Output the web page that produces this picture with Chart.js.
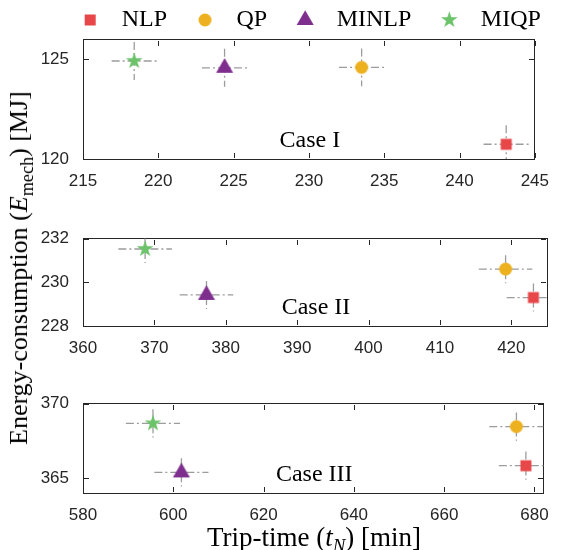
<!DOCTYPE html>
<html>
<head>
<meta charset="utf-8">
<script src="https://cdn.jsdelivr.net/npm/chart.js@4/dist/chart.umd.min.js"></script>
<style>
  body { margin: 0; background: #fff; }
  #wrap { position: relative; width: 561px; height: 550px; overflow: hidden; }
  canvas { position: absolute; left: 0; }
  .axlab { position: absolute; white-space: nowrap; font-family: "Liberation Serif", serif; color: #000; line-height: 1; }
  .axlab sub { font-size: 0.7em; line-height: 0; }
  #ylab { left: 19px; top: 268px; font-size: 26px; transform: translate(-50%, -50%) rotate(-90deg); }
  #xlab { left: 314px; top: 537px; font-size: 27px; transform: translate(-50%, -50%); }
</style>
</head>
<body>
<div id="wrap">
  <canvas id="case1" width="561" height="189" style="top:0px"></canvas>
  <canvas id="case2" width="561" height="159" style="top:197px"></canvas>
  <canvas id="case3" width="561" height="161" style="top:362px"></canvas>
  <div class="axlab" id="ylab">Energy-consumption (<i>E</i><sub>mech</sub>) [MJ]</div>
  <div class="axlab" id="xlab">Trip-time (<i>t</i><sub><i>N</i></sub>) [min]</div>
</div>
<script>
const methods = ['NLP', 'QP', 'MINLP', 'MIQP'];
const colors = ['#E8474A', '#EDB120', '#7E2F8E', '#6CC36A'];
const shapes = ['rect', 'circle', 'triangle', 'star'];

// Case I
const case1Time = [243.1, 233.5, 224.4, 218.4];
const case1Energy = [120.74, 124.6, 124.58, 124.92];
const case1TimeErr = [1.5, 1.5, 1.5, 1.5];
const case1EnergyErr = [0.95, 0.95, 0.95, 0.95];
const case1XTicks = [215, 220, 225, 230, 235, 240, 245];
const case1YTicks = [120, 125];

// Case II
const case2Time = [423.1, 419.2, 377.3, 368.7];
const case2Energy = [229.3, 230.6, 229.42, 231.52];
const case2TimeErr = [3.75, 3.75, 3.75, 3.75];
const case2EnergyErr = [0.64, 0.64, 0.64, 0.64];
const case2XTicks = [360, 370, 380, 390, 400, 410, 420];
const case2YTicks = [228, 230, 232];

// Case III
const case3Time = [678.1, 676.0, 601.8, 595.5];
const case3Energy = [365.83, 368.45, 365.38, 368.67];
const case3TimeErr = [6, 6, 6, 6];
const case3EnergyErr = [0.95, 0.95, 0.95, 0.95];
const case3XTicks = [580, 600, 620, 640, 660, 680];
const case3YTicks = [365, 370];

const axisColor = '#262626';
const serif = '"Liberation Serif", serif';

function makeMarker(shape, color, w, cx) {
  const c = document.createElement('canvas');
  c.width = w; c.height = 24;
  const g = c.getContext('2d');
  const cy = 12;
  g.fillStyle = color;
  g.beginPath();
  if (shape === 'rect') {
    g.rect(cx - 5.5, cy - 5.5, 11, 11);
  } else if (shape === 'circle') {
    g.arc(cx, cy, 6.5, 0, 2 * Math.PI);
  } else if (shape === 'triangle') {
    g.moveTo(cx, cy - 9.8);
    g.lineTo(cx + 8.5, cy + 4.9);
    g.lineTo(cx - 8.5, cy + 4.9);
    g.closePath();
  } else {
    for (let k = 0; k < 10; k++) {
      const r = k % 2 ? 3.4 : 8.7;
      const a = -Math.PI / 2 + k * Math.PI / 5;
      g.lineTo(cx + r * Math.cos(a), cy + r * Math.sin(a));
    }
    g.closePath();
  }
  g.fill();
  return c;
}

const dataMarkers = shapes.map((s, i) => makeMarker(s, colors[i], 24, 12));
const legendMarkers = shapes.map((s, i) => makeMarker(s, colors[i], 48, 33.25));

// dash-dot crosshair error bars
const errorBars = {
  id: 'errorBars',
  beforeDatasetsDraw(chart) {
    const {ctx, chartArea: a, scales: {x, y}} = chart;
    ctx.save();
    ctx.beginPath();
    ctx.rect(a.left, a.top, a.width, a.height);
    ctx.clip();
    ctx.strokeStyle = '#9c9c9c';
    ctx.lineWidth = 1.3;
    ctx.setLineDash([8, 3, 2, 3]);
    chart.data.datasets.forEach(ds => {
      ds.data.forEach(p => {
        const px = x.getPixelForValue(p.x), py = y.getPixelForValue(p.y);
        ctx.beginPath();
        ctx.moveTo(x.getPixelForValue(p.x - p.xErr), py);
        ctx.lineTo(x.getPixelForValue(p.x + p.xErr), py);
        ctx.stroke();
        ctx.beginPath();
        ctx.moveTo(px, y.getPixelForValue(p.y + p.yErr));
        ctx.lineTo(px, y.getPixelForValue(p.y - p.yErr));
        ctx.stroke();
      });
    });
    ctx.restore();
  }
};

// inward ticks on all four sides, plus the case label
const ticksAndLabel = {
  id: 'ticksAndLabel',
  afterDraw(chart, args, opts) {
    const {ctx, chartArea: a, scales: {x, y}} = chart;
    const L = Math.round(a.left), R = Math.round(a.right) - 1;
    const T = Math.round(a.top), B = Math.round(a.bottom) - 1;
    ctx.save();
    ctx.fillStyle = axisColor;
    x.ticks.forEach(t => {
      const px = Math.round(x.getPixelForValue(t.value));
      ctx.fillRect(px, B - 5, 1, 5);
      ctx.fillRect(px, T + 1, 1, 5);
    });
    y.ticks.forEach(t => {
      const py = Math.round(y.getPixelForValue(t.value));
      ctx.fillRect(L + 1, py, 5, 1);
      ctx.fillRect(R - 5, py, 5, 1);
    });
    ctx.fillStyle = '#000';
    ctx.font = '24px ' + serif;
    ctx.textAlign = 'center';
    ctx.textBaseline = 'middle';
    ctx.fillText(opts.text, (a.left + a.right) / 2 + 1, a.bottom - 18);
    ctx.restore();
  }
};

// fixed legend height and horizontal shift so the legend sits where it should
const legendFix = {
  id: 'legendFix',
  afterInit(chart) {
    const lg = chart.legend;
    if (!lg) return;
    const fit = lg.fit.bind(lg);
    lg.fit = function () { fit(); this.height = 31.5; };
  },
  afterLayout(chart) {
    const lg = chart.legend;
    if (!lg || !lg.options.display) return;
    lg.left += 6.5;
    lg.right += 6.5;
  }
};

function makePanel(id, time, energy, timeErr, energyErr, xTicks, yTicks, xr, yr, caseText, withLegend) {
  const datasets = methods.map((m, i) => ({
    label: m,
    data: [{x: time[i], y: energy[i], xErr: timeErr[i], yErr: energyErr[i]}],
    pointStyle: dataMarkers[i],
    pointRadius: 8,
    pointBorderWidth: 0,
    backgroundColor: colors[i],
    borderColor: colors[i]
  }));
  const tickFont = {family: '"Liberation Sans", Arial, sans-serif', size: 17};
  const boxSide = (pos, range, size) => ({
    type: 'linear', position: pos, min: range[0], max: range[1],
    grid: {display: false, drawTicks: false},
    border: {display: true, color: axisColor, width: 1},
    ticks: {display: false},
    afterFit: s => { if (pos === 'top') s.height = 0; else s.width = 0; }
  });
  return new Chart(document.getElementById(id), {
    type: 'scatter',
    data: {datasets},
    options: {
      responsive: false,
      animation: false,
      layout: {padding: withLegend ? {left: 33, right: 14, top: 8, bottom: 0} : {left: 0, right: 14, top: 10, bottom: 0}},
      scales: {
        x: {
          type: 'linear', position: 'bottom', min: xr[0], max: xr[1],
          grid: {display: false, drawTicks: false},
          border: {display: true, color: axisColor, width: 1},
          ticks: {padding: 12, font: tickFont, color: axisColor, maxRotation: 0, autoSkip: false, callback: v => String(v)},
          afterBuildTicks: s => { s.ticks = xTicks.map(v => ({value: v})); },
          afterFit: s => { s.height = 30; }
        },
        y: {
          type: 'linear', position: 'left', min: yr[0], max: yr[1],
          grid: {display: false, drawTicks: false},
          border: {display: true, color: axisColor, width: 1},
          ticks: {padding: 14, font: tickFont, color: axisColor, autoSkip: false, callback: v => String(v)},
          afterBuildTicks: s => { s.ticks = yTicks.map(v => ({value: v})); },
          afterFit: s => { s.width = withLegend ? 50 : 83; }
        },
        xTop: boxSide('top', xr),
        yRight: boxSide('right', yr)
      },
      plugins: {
        tooltip: {enabled: false},
        ticksAndLabel: {text: caseText},
        legend: {
          display: withLegend,
          position: 'top',
          labels: {
            usePointStyle: true,
            pointStyleWidth: 57.5,
            padding: 0,
            color: '#000',
            font: {family: serif, size: 24},
            generateLabels(chart) {
              const items = Chart.defaults.plugins.legend.labels.generateLabels(chart);
              items.forEach((it, i) => { it.pointStyle = legendMarkers[i]; });
              return items;
            }
          }
        }
      }
    },
    plugins: [errorBars, ticksAndLabel, legendFix]
  });
}

makePanel('case1', case1Time, case1Energy, case1TimeErr, case1EnergyErr, case1XTicks, case1YTicks, [215, 245], [120, 126], 'Case I', true);
makePanel('case2', case2Time, case2Energy, case2TimeErr, case2EnergyErr, case2XTicks, case2YTicks, [360, 425], [228, 232], 'Case II', false);
makePanel('case3', case3Time, case3Energy, case3TimeErr, case3EnergyErr, case3XTicks, case3YTicks, [580, 682], [364, 370], 'Case III', false);
</script>
</body>
</html>
